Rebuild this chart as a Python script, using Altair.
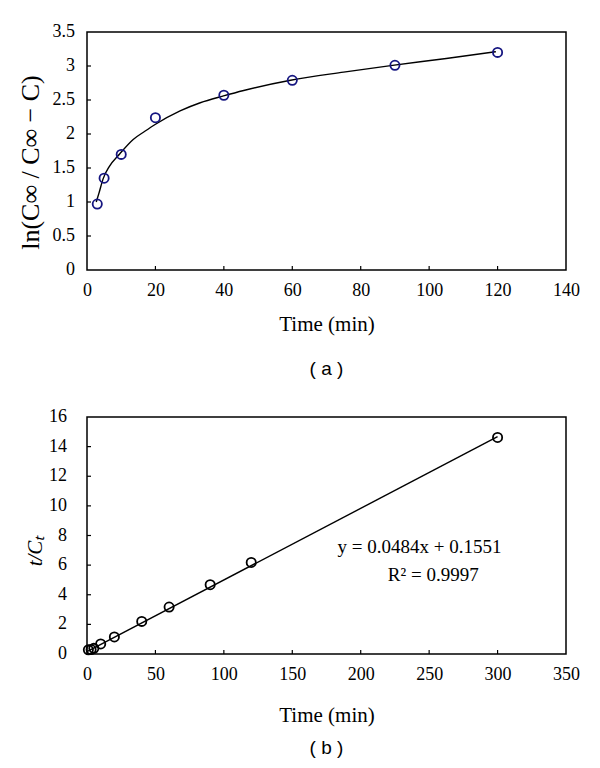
import altair as alt
import pandas as pd

# ---------- Panel (a) data ----------
a_time = [3, 5, 10, 20, 40, 60, 90, 120]
a_val = [0.97, 1.35, 1.70, 2.24, 2.57, 2.79, 3.01, 3.20]
a_curve_x = [2.7, 3.5, 4.7, 6.5, 9.6, 13.5, 16.9, 19.9, 27.2, 33.1, 39.9, 45.8, 59.5, 75, 89.3, 105, 119.5]
a_curve_y = [1.00, 1.13, 1.34, 1.52, 1.71, 1.92, 2.04, 2.14, 2.34, 2.46, 2.56, 2.64, 2.79, 2.91, 3.01, 3.11, 3.21]
a_xticks = [0, 20, 40, 60, 80, 100, 120, 140]
a_yticks = [0, 0.5, 1, 1.5, 2, 2.5, 3, 3.5]
a_ylabels = ["0", "0.5", "1", "1.5", "2", "2.5", "3", "3.5"]

# ---------- Panel (b) data ----------
b_time = [1, 3, 5, 10, 20, 40, 60, 90, 120, 300]
b_val = [0.28, 0.30, 0.38, 0.68, 1.15, 2.20, 3.17, 4.68, 6.18, 14.62]
b_line_x = [0, 300]
b_line_y = [0.16, 14.67]
b_xticks = [0, 50, 100, 150, 200, 250, 300, 350]
b_yticks = [0, 2, 4, 6, 8, 10, 12, 14, 16]
b_ylabels = ["0", "2", "4", "6", "8", "10", "12", "14", "16"]
b_eq_lines = ["y = 0.0484x + 0.1551", "R² = 0.9997"]
b_eq_x = [243, 253]
b_eq_y = [7.22, 5.33]

SERIF = "Liberation Serif"
SANS = "Liberation Sans"
TICK = 4


def panel(px, py, cx, cy, xt, yt, ylab, xdom, ydom, w, h, ytitle, caption,
          color, ypad, ytitle_x, ytitle_dy, xpad, xtpad, capoff,
          ytitle_style="normal", ytitle_size=20, extra=None):
    xs = alt.Scale(domain=xdom, nice=False, zero=False)
    ys = alt.Scale(domain=ydom, nice=False, zero=False)
    pts = pd.DataFrame({"x": px, "y": py})
    cur = pd.DataFrame({"x": cx, "y": cy})
    line = alt.Chart(cur).mark_line(
        color="black", strokeWidth=1.4, interpolate="monotone"
    ).encode(
        x=alt.X("x:Q", scale=xs, axis=alt.Axis(
            values=xt, title="Time (min)", grid=False, ticks=False, domain=False,
            labelFont=SERIF, labelFontSize=18, labelColor="black",
            labelPadding=xpad, titleFont=SERIF, titleFontSize=21,
            titleFontWeight="normal", titleColor="black", titlePadding=xtpad,
            labelFlush=False, labelOverlap=False, format="~r")),
        y=alt.Y("y:Q", scale=ys, axis=alt.Axis(
            values=yt, title=ytitle, grid=False, ticks=False, domain=False,
            labels=False,
            titleFont=SERIF, titleFontSize=ytitle_size,
            titleFontWeight="normal", titleFontStyle=ytitle_style,
            titleColor="black", titleX=ytitle_x, titleY=h / 2 + ytitle_dy,
            titleAngle=270, titleAlign="center", titleBaseline="middle")),
    )
    dots = alt.Chart(pts).mark_point(
        shape="circle", filled=False, color=color, size=85, strokeWidth=1.8,
        opacity=1
    ).encode(
        x=alt.X("x:Q", scale=xs),
        y=alt.Y("y:Q", scale=ys),
    )
    xtk = alt.Chart(pd.DataFrame({"x": xt[1:-1]})).mark_rule(
        color="black", strokeWidth=1.2
    ).encode(
        x=alt.X("x:Q", scale=xs),
        y=alt.value(h), y2=alt.value(h - TICK),
    )
    ytk = alt.Chart(pd.DataFrame({"y": yt[1:-1]})).mark_rule(
        color="black", strokeWidth=1.2
    ).encode(
        y=alt.Y("y:Q", scale=ys),
        x=alt.value(0), x2=alt.value(TICK),
    )
    ylbl = alt.Chart(pd.DataFrame({"y": yt, "t": ylab})).mark_text(
        font=SERIF, fontSize=18, color="black", align="right", baseline="middle"
    ).encode(
        y=alt.Y("y:Q", scale=ys),
        x=alt.value(-ypad),
        text="t:N",
    )
    layers = [line, dots, xtk, ytk, ylbl]
    if extra is not None:
        layers.append(extra(xs, ys))
    return alt.layer(*layers).properties(
        width=w, height=h,
        title=alt.TitleParams(caption, orient="bottom", font=SANS, fontSize=19,
                              fontWeight="normal", color="black", offset=capoff,
                              anchor="middle"),
    )


def eq_layer(xs, ys):
    df = pd.DataFrame({"t": b_eq_lines, "x": b_eq_x, "y": b_eq_y})
    return alt.Chart(df).mark_text(
        font=SERIF, fontSize=19, color="black", align="center", baseline="middle"
    ).encode(
        x=alt.X("x:Q", scale=xs),
        y=alt.Y("y:Q", scale=ys),
        text="t:N",
    )


chart_a = panel(a_time, a_val, a_curve_x, a_curve_y, a_xticks, a_yticks, a_ylabels,
                [0, 140], [0, 3.5], 479, 238, "ln(C∞ / C∞ − C)", "( a )",
                "#151580", ypad=12, ytitle_x=-57, ytitle_dy=11, xpad=11,
                xtpad=14, capoff=26, ytitle_size=26)

chart_b = panel(b_time, b_val, b_line_x, b_line_y, b_xticks, b_yticks, b_ylabels,
                [0, 350], [0, 16], 479, 237, "t/Cₜ", "( b )",
                "black", ypad=20, ytitle_x=-52, ytitle_dy=15, xpad=11,
                xtpad=21, capoff=14, ytitle_style="italic", ytitle_size=21,
                extra=eq_layer)

chart = alt.vconcat(chart_a, chart_b, spacing=27).properties(
    padding={"left": 8, "top": 14, "right": 3, "bottom": 3},
    background="white",
).configure_view(
    stroke="black", strokeWidth=1.5
)

chart.save("out.html", embed_options={"renderer": "svg", "actions": False})
